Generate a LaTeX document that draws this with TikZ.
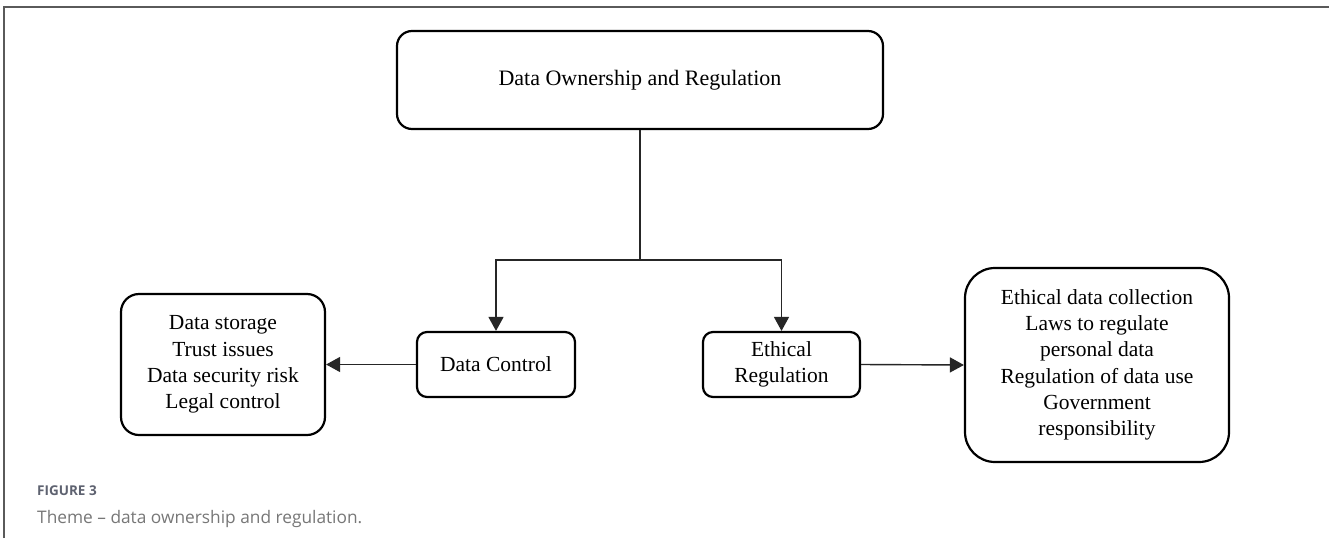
\documentclass[tikz,border=0pt]{standalone}
\usepackage{fontspec}
\setmainfont{Liberation Serif}
\newfontfamily\capfont{Open Sans}
\usetikzlibrary{arrows.meta}
\definecolor{framegray}{HTML}{5A5A5A}
\definecolor{capdark}{HTML}{5E6270}
\definecolor{caplight}{HTML}{777777}
\tikzset{
  box/.style={draw=black, line width=2.2pt, fill=white, align=center, inner sep=0pt,
    font=\fontsize{21.5}{26.3}\selectfont},
  conn/.style={draw=black!85, line width=1.4pt},
  arr/.style={conn, -{Triangle[length=14pt,width=15pt]}},
}
\begin{document}
\begin{tikzpicture}[x=1pt,y=-1pt]
\useasboundingbox (0,0) rectangle (1329,538);
\fill[white] (0,0) rectangle (1329,538);
\draw[framegray, line width=1.2pt] (4,538) -- (4,7) -- (1329,7);

\node[box, rounded corners=15pt, minimum width=486pt, minimum height=98pt, font=\fontsize{22}{26}\selectfont] (top) at (640,80) {Data Ownership and Regulation};
\node[box, rounded corners=10pt, minimum width=158pt, minimum height=65pt] (dc) at (496,364.5) {Data Control};
\node[box, rounded corners=10pt, minimum width=157pt, minimum height=65pt] (er) at (781.5,364.5) {Ethical\\Regulation};
\node[box, rounded corners=18pt, minimum width=204pt, minimum height=141pt] (left) at (223,364.5) {Data storage\\Trust issues\\Data security risk\\Legal control};
\node[box, rounded corners=30pt, minimum width=264pt, minimum height=194pt] (right) at (1097,365) {Ethical data collection\\Laws to regulate\\personal data\\Regulation of data use\\Government\\responsibility};

\coordinate (split) at (640,260);
\draw[conn] (top.south) -- (split);
\draw[arr] (split) -| (dc.north);
\draw[arr] (split) -| (er.north);
\draw[arr] (dc.west) -- (left.east);
\draw[arr] (er.east) -- (right.west);

\node[anchor=base west, inner sep=0pt, text=capdark, font=\capfont\fontsize{13.5}{15}\selectfont\bfseries] (figlab) at (37,495) {FIGURE 3};
\node[anchor=base west, inner sep=0pt, text=caplight, font=\capfont\fontsize{17.3}{20}\selectfont] (figcap) at (37,523) {Theme – data ownership and regulation.};
\end{tikzpicture}
\end{document}
